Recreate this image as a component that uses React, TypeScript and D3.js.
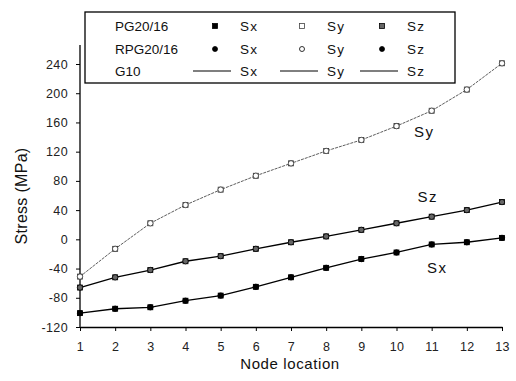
import React, { useEffect, useRef } from "react";
import * as d3 from "d3";

const nodes = [1, 2, 3, 4, 5, 6, 7, 8, 9, 10, 11, 12, 13];
const sx = [-101, -95, -93, -84, -77, -65, -52, -39, -27, -18, -7, -4, 2];
const sy = [-51, -13, 22, 47, 68, 87, 104, 121, 136, 155, 176, 205, 241];
const sz = [-66, -52, -42, -30, -23, -13, -4, 4, 13, 22, 31, 40, 51];
const yTicks = [-120, -80, -40, 0, 40, 80, 120, 160, 200, 240];
const legendRows = ["PG20/16", "RPG20/16", "G10"];
const legendCols = ["Sx", "Sy", "Sz"];

const W = 516;
const H = 381;
const font = "'Liberation Sans', Arial, sans-serif";

export default function App() {
  const ref = useRef<SVGSVGElement>(null);

  useEffect(() => {
    const svg = d3.select(ref.current);
    svg.selectAll("*").remove();

    const x = d3.scaleLinear().domain([1, 13]).range([80, 502]);
    const y = d3.scaleLinear().domain([-120, 240]).range([327, 64]);

    // y axis
    const gy = svg.append("g")
      .attr("transform", "translate(80,0)")
      .call(d3.axisLeft(y).tickValues(yTicks).tickSize(4).tickSizeOuter(0).tickFormat((d) => String(d)));
    gy.select(".domain").remove();
    gy.selectAll("text").attr("font-family", font).attr("font-size", 12.5).attr("fill", "#222")
      .attr("dx", -5).attr("letter-spacing", 0.4);
    svg.append("line")
      .attr("x1", 80).attr("x2", 80).attr("y1", 45).attr("y2", 327)
      .attr("stroke", "#000").attr("stroke-width", 1.3);

    // x axis
    const gx = svg.append("g")
      .attr("transform", "translate(0,327)")
      .call(d3.axisBottom(x).tickValues(nodes).tickSize(4).tickSizeOuter(0).tickFormat((d) => String(d)));
    gx.select(".domain").attr("stroke-width", 1.3);
    gx.selectAll("text").attr("font-family", font).attr("font-size", 12.5).attr("fill", "#222")
      .attr("dy", "1.35em").attr("letter-spacing", 0.4);

    svg.append("text").text("Stress (MPa)")
      .attr("transform", "translate(27,196) rotate(-90)")
      .attr("text-anchor", "middle").attr("font-family", font).attr("font-size", 16)
      .attr("letter-spacing", 0.3).attr("fill", "#111");
    svg.append("text").text("Node location")
      .attr("x", 290).attr("y", 369)
      .attr("text-anchor", "middle").attr("font-family", font).attr("font-size", 15)
      .attr("letter-spacing", 0.6).attr("fill", "#111");

    const line = d3.line<number>().x((d, i) => x(nodes[i])).y((d) => y(d));

    svg.append("path").datum(sy).attr("d", line).attr("fill", "none")
      .attr("stroke", "#333").attr("stroke-width", 0.8).attr("stroke-dasharray", "3,1");
    svg.append("path").datum(sz).attr("d", line).attr("fill", "none")
      .attr("stroke", "#000").attr("stroke-width", 1.3);
    svg.append("path").datum(sx).attr("d", line).attr("fill", "none")
      .attr("stroke", "#000").attr("stroke-width", 1.3);

    // markers: PG squares, RPG circles
    const drawMarks = (data: number[], fill: string, stroke: string) => {
      svg.append("g").selectAll("rect").data(data).enter().append("rect")
        .attr("x", (d, i) => x(nodes[i]) - 2.5).attr("y", (d) => y(d) - 2.5)
        .attr("width", 5).attr("height", 5)
        .attr("fill", fill).attr("stroke", stroke).attr("stroke-width", 0.8);
      svg.append("g").selectAll("circle").data(data).enter().append("circle")
        .attr("cx", (d, i) => x(nodes[i])).attr("cy", (d) => y(d)).attr("r", 2.7)
        .attr("fill", fill).attr("stroke", stroke).attr("stroke-width", 0.8);
    };
    drawMarks(sy, "#fff", "#333");
    drawMarks(sz, "#666", "#000");
    drawMarks(sx, "#000", "#000");

    // curve labels
    const labels = [
      { t: "Sy", v: sy[10] - 36, n: 10.5 },
      { t: "Sz", v: sz[10] + 20, n: 10.6 },
      { t: "Sx", v: sx[10] - 39, n: 10.87 },
    ];
    svg.append("g").selectAll("text").data(labels).enter().append("text")
      .text((d) => d.t)
      .attr("x", (d) => x(d.n)).attr("y", (d) => y(d.v))
      .attr("font-family", font).attr("font-size", 15).attr("letter-spacing", 1.5)
      .attr("fill", "#111");

    // legend
    const lg = svg.append("g");
    lg.append("rect").attr("x", 85).attr("y", 12).attr("width", 370).attr("height", 71)
      .attr("fill", "#fff").attr("stroke", "#000").attr("stroke-width", 1.3);
    const rowY = [26, 49, 71];
    const markerX = [215, 302, 382];
    const textX = [240, 327, 407];
    legendRows.forEach((r, ri) => {
      lg.append("text").text(r).attr("x", 115).attr("y", rowY[ri] + 5)
        .attr("font-family", font).attr("font-size", 13.5).attr("fill", "#111");
      legendCols.forEach((c, ci) => {
        const fill = ci === 0 ? "#000" : ci === 1 ? "#fff" : "#666";
        if (ri === 0) {
          lg.append("rect").attr("x", markerX[ci] - 2.5).attr("y", rowY[ri] - 2.5)
            .attr("width", 5).attr("height", 5).attr("fill", fill)
            .attr("stroke", ci === 1 ? "#444" : "#000").attr("stroke-width", 0.8);
        } else if (ri === 1) {
          lg.append("circle").attr("cx", markerX[ci]).attr("cy", rowY[ri]).attr("r", 2.5)
            .attr("fill", ci === 1 ? "#fff" : "#000").attr("stroke", "#000").attr("stroke-width", 0.8);
        } else {
          lg.append("line").attr("x1", markerX[ci] - 22).attr("x2", markerX[ci] + 16)
            .attr("y1", rowY[ri]).attr("y2", rowY[ri])
            .attr("stroke", "#000").attr("stroke-width", ci === 1 ? 1 : 1.2);
        }
        lg.append("text").text(c).attr("x", textX[ci]).attr("y", rowY[ri] + 5)
          .attr("font-family", font).attr("font-size", 13.5).attr("letter-spacing", 1.2)
          .attr("fill", "#111");
      });
    });
  }, []);

  return (
    <svg ref={ref} width={W} height={H} style={{ position: "absolute", left: 0, top: 0, background: "#fff" }} />
  );
}
